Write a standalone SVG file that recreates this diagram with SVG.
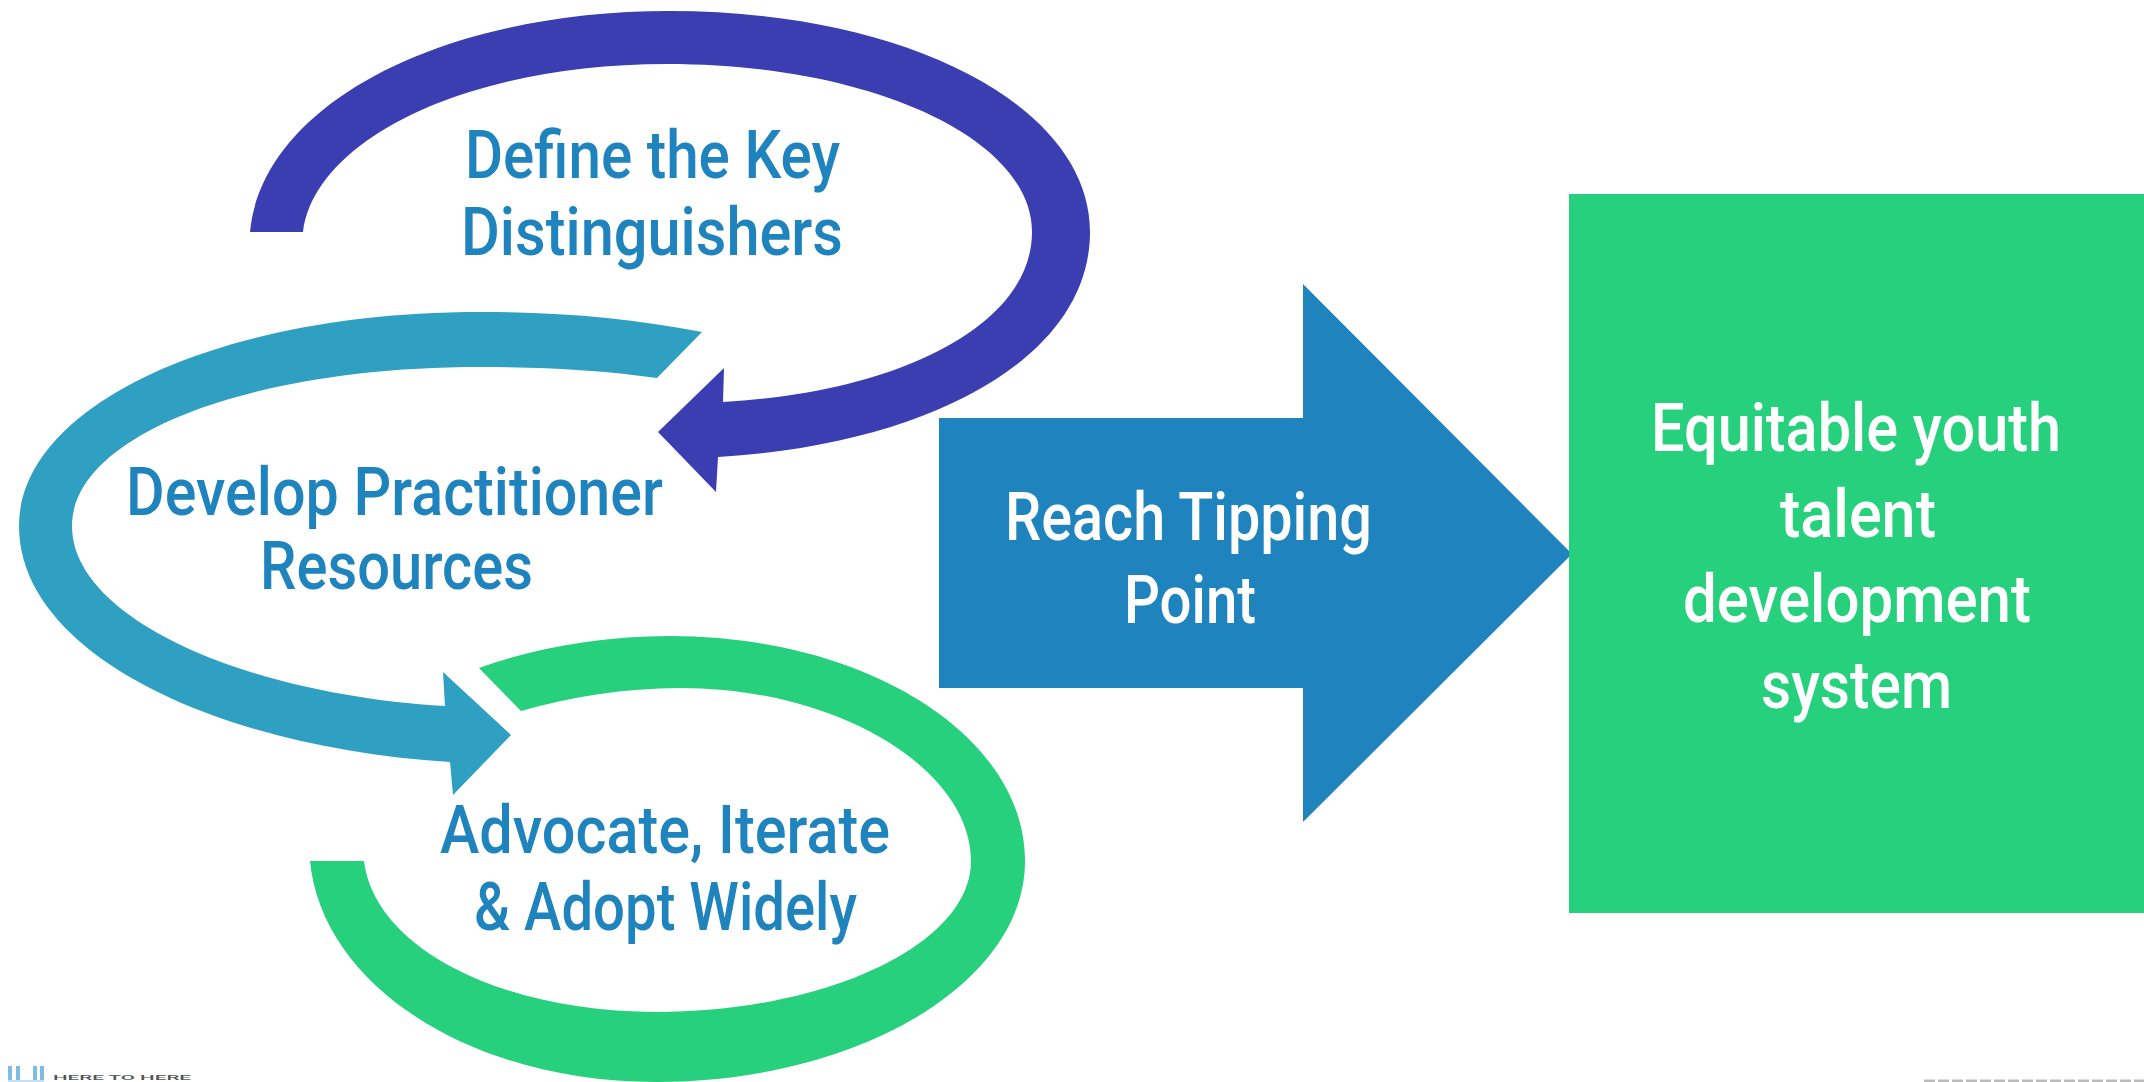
<svg xmlns="http://www.w3.org/2000/svg" width="2144" height="1082" viewBox="0 0 2144 1082">
<style>
text{font-family:"Roboto","Liberation Sans",sans-serif;font-weight:500;font-size:67px;text-anchor:start}
.b{fill:#1f84bd}
.w{fill:#fff}
</style>
<rect width="2144" height="1082" fill="#fff"/>
<g id="connectors">
<path id="loop1" fill="#3a3eb1" d="M250,232 C262,105 440,11 670,11 C905,11 1090,105 1090,232 C1090,360 925,445 718,457 L716,492 L658,432 L724,368 L723,402 C900,392 1032,325 1032,232 C1032,138 870,64 667,64 C470,64 315,138 303,232 Z"/>
<path id="loop2" fill="#2f9fc2" d="M702,332 C630,318 560,312 480,312 C220,312 19,405 19,526 C19,655 220,748 450,762 L453,795 L511,735 L443,672 L445,706 C250,695 72,620 72,526 C72,435 250,367 480,367 C545,367 600,370 657,378 Z"/>
<path id="loop3" fill="#26d07c" d="M479,668 C535,648 600,636 670,636 C865,636 1025,735 1025,861 C1025,985 855,1082 656,1082 C470,1082 322,985 310,861 L364,861 C375,950 505,1012 656,1012 C825,1012 971,945 971,861 C971,770 840,688 680,688 C625,688 570,697 521,711 Z"/>
</g>
<g id="node-define"><text x="465" y="178" class="b" textLength="375" lengthAdjust="spacingAndGlyphs">Define the Key</text><text x="461" y="255" class="b" textLength="382" lengthAdjust="spacingAndGlyphs">Distinguishers</text></g>
<g id="node-develop"><text x="126" y="515" class="b" textLength="537" lengthAdjust="spacingAndGlyphs">Develop Practitioner</text><text x="260" y="589" class="b" textLength="273" lengthAdjust="spacingAndGlyphs">Resources</text></g>
<g id="node-advocate"><text x="440" y="853" class="b" textLength="450" lengthAdjust="spacingAndGlyphs">Advocate, Iterate</text><text x="474" y="930" class="b" textLength="383" lengthAdjust="spacingAndGlyphs">&amp; Adopt Widely</text></g>
<g id="node-tipping"><polygon fill="#1f84bd" points="939,418 1303,418 1303,284 1572,554 1303,822 1303,688 939,688"/><text x="1005" y="540" class="w" textLength="367" lengthAdjust="spacingAndGlyphs">Reach Tipping</text><text x="1124" y="623" class="w" textLength="132" lengthAdjust="spacingAndGlyphs">Point</text></g>
<g id="node-system"><rect x="1569" y="194" width="575" height="719" fill="#26d07c"/><text x="1651" y="451" class="w" textLength="410" lengthAdjust="spacingAndGlyphs">Equitable youth</text><text x="1780" y="537" class="w" textLength="156" lengthAdjust="spacingAndGlyphs">talent</text><text x="1683" y="622" class="w" textLength="348" lengthAdjust="spacingAndGlyphs">development</text><text x="1761" y="708" class="w" textLength="191" lengthAdjust="spacingAndGlyphs">system</text></g>
<g id="footer">
<path d="M10,1066V1081M18,1066V1081M35,1066V1081M42,1066V1081" stroke="#7dbde3" stroke-width="4" fill="none"/>
<path d="M8,1081H44" stroke="#c4e0f2" stroke-width="2" fill="none"/>
<text x="53" y="1080" textLength="138" lengthAdjust="spacingAndGlyphs" style="font-size:7px;fill:#555">HERE TO HERE</text>
<path d="M1924,1081H2144" stroke="#bbb" stroke-width="3" stroke-dasharray="11 3" fill="none"/>
</g>
</svg>
